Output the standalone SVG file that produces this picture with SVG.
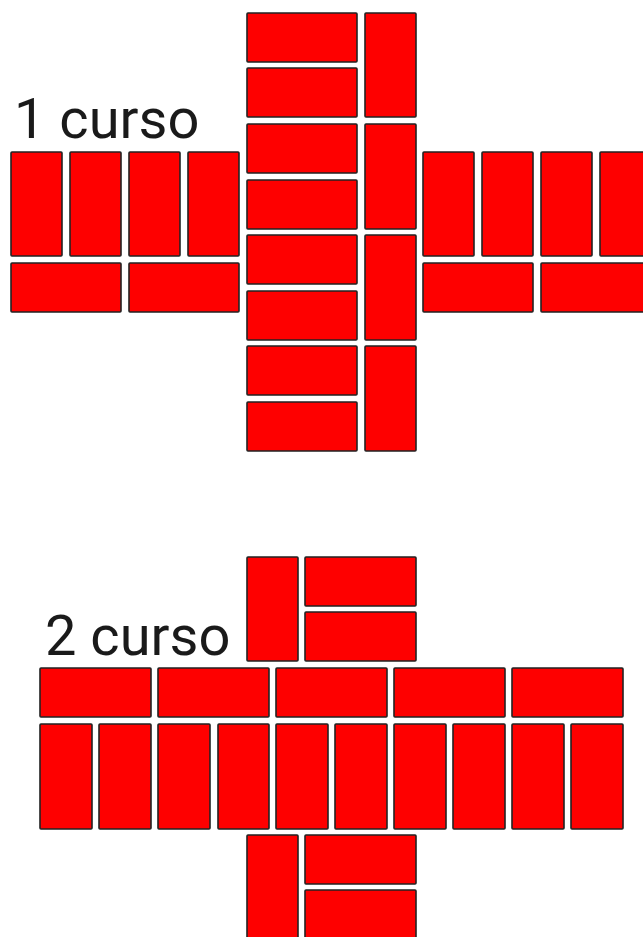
<svg xmlns="http://www.w3.org/2000/svg" width="643" height="937" viewBox="0 0 643 937">
<style>rect{fill:#fe0000;stroke:#222;stroke-width:1.6;rx:1px}text{font-family:Roboto,"Liberation Sans",sans-serif;font-size:56px;fill:#1a1a1a}</style>
<rect x="0" y="0" width="643" height="937" style="fill:#fff;stroke:none"/>
<g id="curso1">
<text x="14" y="138">1 curso</text>
<rect x="247" y="13" width="110" height="49"/><rect x="247" y="68" width="110" height="49"/><rect x="247" y="124" width="110" height="49"/><rect x="247" y="180" width="110" height="49"/><rect x="247" y="235" width="110" height="49"/><rect x="247" y="291" width="110" height="49"/><rect x="247" y="346" width="110" height="49"/><rect x="247" y="402" width="110" height="49"/>
<rect x="365" y="13" width="51" height="104"/><rect x="365" y="124" width="51" height="105"/><rect x="365" y="235" width="51" height="105"/><rect x="365" y="346" width="51" height="105"/>
<rect x="11" y="152" width="51" height="104"/><rect x="70" y="152" width="51" height="104"/><rect x="129" y="152" width="51" height="104"/><rect x="188" y="152" width="51" height="104"/>
<rect x="11" y="263" width="110" height="49"/><rect x="129" y="263" width="110" height="49"/>
<rect x="423" y="152" width="51" height="104"/><rect x="482" y="152" width="51" height="104"/><rect x="541" y="152" width="51" height="104"/><rect x="600" y="152" width="51" height="104"/>
<rect x="423" y="263" width="110" height="49"/><rect x="541" y="263" width="110" height="49"/>
</g>
<g id="curso2">
<text x="45" y="655">2 curso</text>
<rect x="247" y="557" width="51" height="104"/><rect x="305" y="557" width="111" height="49"/><rect x="305" y="612" width="111" height="49"/>
<rect x="40" y="668" width="111" height="49"/><rect x="158" y="668" width="111" height="49"/><rect x="276" y="668" width="111" height="49"/><rect x="394" y="668" width="111" height="49"/><rect x="512" y="668" width="111" height="49"/>
<rect x="40" y="724" width="52" height="105"/><rect x="99" y="724" width="52" height="105"/><rect x="158" y="724" width="52" height="105"/><rect x="218" y="724" width="51" height="105"/><rect x="276" y="724" width="52" height="105"/><rect x="335" y="724" width="52" height="105"/><rect x="394" y="724" width="52" height="105"/><rect x="453" y="724" width="52" height="105"/><rect x="512" y="724" width="52" height="105"/><rect x="571" y="724" width="52" height="105"/>
<rect x="247" y="835" width="51" height="105"/><rect x="305" y="835" width="111" height="49"/><rect x="305" y="890" width="111" height="49"/>
</g>
</svg>
